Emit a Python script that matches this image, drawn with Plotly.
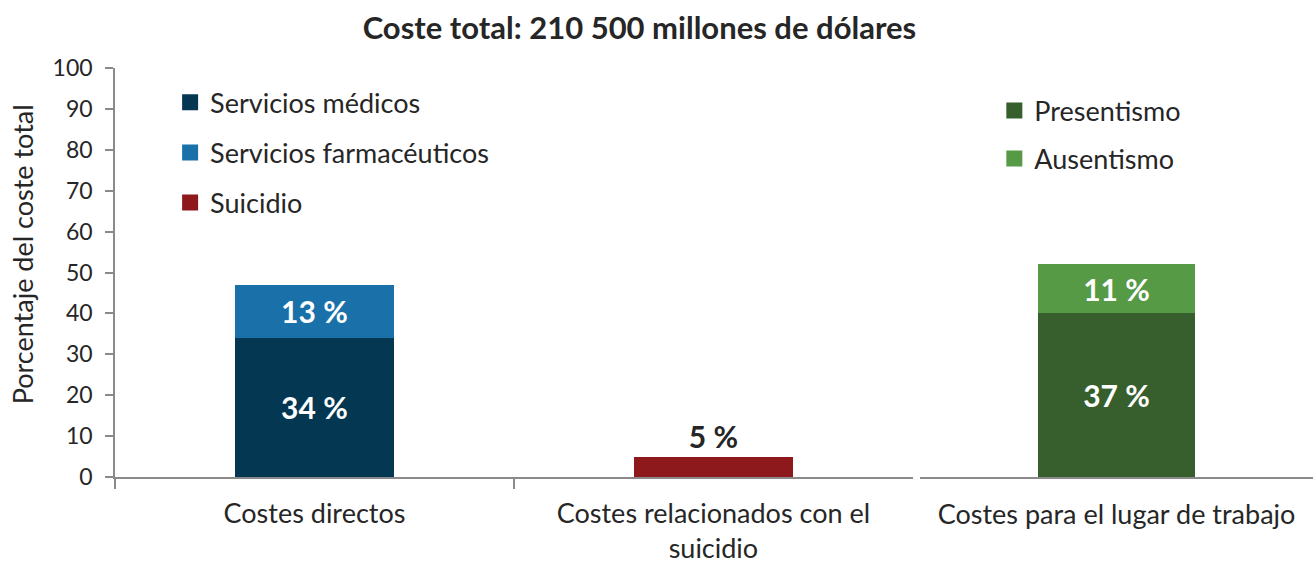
import plotly.graph_objects as go

# ---- data ----
categories_left = ["Costes directos", "Costes relacionados con el<br>suicidio"]
categories_right = ["Costes para el lugar de trabajo"]

medicos = [34, None]
farmaceuticos = [13, None]
suicidio = [None, 5]
presentismo = [40]
ausentismo = [12]

medicos_labels = ["34 %", ""]
farmaceuticos_labels = ["13 %", ""]
suicidio_labels = ["", "5 %"]
presentismo_labels = ["37 %"]
ausentismo_labels = ["11 %"]

y_ticks = list(range(0, 101, 10))

# ---- styles ----
FONT = "Lato"
C_MED = "#033752"
C_FAR = "#1a71aa"
C_SUI = "#8e191d"
C_PRE = "#375f2d"
C_AUS = "#569a46"
AXIS = "#8a8a8a"
TXT = "#262626"

fig = go.Figure()

label_font_in = dict(family=FONT, size=30, color="white", weight="bold")


def add_bar(name, x, y, color, text, xaxis, legend, pos="inside", tfont=None):
    fig.add_trace(go.Bar(x=x, y=y, name=name, marker_color=color, text=text,
                         textposition=pos,
                         insidetextanchor="middle" if pos == "inside" else None,
                         textfont=tfont or label_font_in, cliponaxis=False,
                         xaxis=xaxis, yaxis="y", width=0.4, marker_line_width=0,
                         showlegend=False, legendgroup=name))
    # legend proxy (bigger square swatch)
    fig.add_trace(go.Scatter(x=[None], y=[None], mode="markers", name=name,
                             marker=dict(symbol="square", size=16, color=color),
                             xaxis=xaxis, yaxis="y", legend=legend,
                             legendgroup=name, hoverinfo="skip"))


add_bar("Servicios médicos", categories_left, medicos, C_MED, medicos_labels, "x", "legend")
add_bar("Servicios farmacéuticos", categories_left, farmaceuticos, C_FAR,
        farmaceuticos_labels, "x", "legend")
add_bar("Suicidio", categories_left, suicidio, C_SUI, suicidio_labels, "x", "legend",
        pos="outside", tfont=dict(family=FONT, size=30, color=TXT, weight="bold"))
add_bar("Presentismo", categories_right, presentismo, C_PRE, presentismo_labels, "x2",
        "legend2")
add_bar("Ausentismo", categories_right, ausentismo, C_AUS, ausentismo_labels, "x2",
        "legend2")

legend_common = dict(font=dict(family=FONT, size=27, color=TXT), bgcolor="rgba(0,0,0,0)",
                     xanchor="left", yanchor="top", traceorder="grouped",
                     itemwidth=30)

fig.update_layout(
    width=1313, height=564,
    margin=dict(l=115, r=0, t=68, b=87),
    paper_bgcolor="white", plot_bgcolor="white",
    barmode="stack",
    uniformtext=dict(mode=False),
    font=dict(family=FONT, color=TXT),
    title=dict(text="<b>Coste total: 210 500 millones de dólares</b>",
               x=0.487, xanchor="center", y=0.95, yanchor="middle",
               font=dict(family=FONT, size=31, color=TXT)),
    legend=dict(x=0.046, y=0.975, tracegroupgap=12, **legend_common),
    legend2=dict(x=0.734, y=0.955, tracegroupgap=10, **legend_common),
    xaxis=dict(domain=[0, 0.666], showline=True, linecolor=AXIS, linewidth=1.5,
               ticks="outside", tickson="boundaries", ticklen=10, tickcolor=AXIS,
               tickwidth=1.5, ticklabelstandoff=12,
               tickfont=dict(family=FONT, size=27, color=TXT),
               showgrid=False, zeroline=False),
    xaxis2=dict(domain=[0.672, 1], anchor="y", showline=True, linecolor=AXIS,
                linewidth=1.5, ticks="", ticklabelstandoff=13,
                tickfont=dict(family=FONT, size=27, color=TXT),
                showgrid=False, zeroline=False),
    yaxis=dict(range=[0, 100], tickvals=y_ticks, showline=True, linecolor=AXIS,
               linewidth=1.5, ticks="outside", ticklen=8, tickcolor=AXIS, tickwidth=1.5,
               ticklabelstandoff=8,
               tickfont=dict(family=FONT, size=23, color=TXT), showgrid=False,
               zeroline=False),
    showlegend=True,
)

fig.add_annotation(text="Porcentaje del coste total", textangle=-90,
                   xref="paper", yref="paper", x=-0.0775, y=0.545,
                   xanchor="center", yanchor="middle", showarrow=False,
                   font=dict(family=FONT, size=27, color=TXT))

fig.write_html("out.html", config={"displayModeBar": False},
               post_script="document.body.style.margin='0';document.body.style.padding='0';")
